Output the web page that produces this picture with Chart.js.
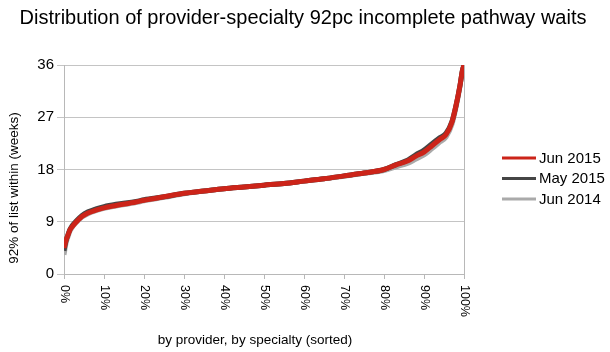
<!DOCTYPE html>
<html>
<head>
<meta charset="utf-8">
<script src="https://cdn.jsdelivr.net/npm/chart.js@4.4.0/dist/chart.umd.min.js"></script>
<style>
  html, body { margin: 0; padding: 0; background: #fff; }
  #wrap { width: 610px; height: 352px; }
</style>
</head>
<body>
<div id="wrap"><canvas id="c" width="610" height="352"></canvas></div>
<script>
const titleText = "Distribution of provider-specialty 92pc incomplete pathway waits";
const yTitle = "92% of list within (weeks)";
const xTitle = "by provider, by specialty (sorted)";
const seriesNames = ["Jun 2015", "May 2015", "Jun 2014"];
const seriesColors = ["#cc2419", "#454545", "#aaaaaa"];

// percentile position (% of provider-specialties, sorted)
const pct = [0, 0.5, 1, 1.5, 2, 3, 4.5, 6, 8, 10, 13, 18, 20, 25, 30, 35, 40, 45, 50, 55, 60, 65, 70, 75, 80, 83, 86, 88, 90, 92, 94, 95.5, 97, 98, 99, 99.6, 100];
const jun2015 = [4.5, 5.8, 6.7, 7.6, 8.1, 8.9, 9.9, 10.5, 11.0, 11.4, 11.8, 12.4, 12.7, 13.3, 13.9, 14.3, 14.7, 15.0, 15.3, 15.6, 16.0, 16.4, 16.9, 17.4, 18.0, 18.8, 19.5, 20.3, 21.0, 22.1, 23.2, 24.0, 26.2, 29.0, 32.5, 35.0, 36.0];
const may2015 = [4.0, 5.7, 6.8, 7.7, 8.3, 9.1, 10.1, 10.7, 11.2, 11.6, 12.0, 12.5, 12.8, 13.3, 13.9, 14.3, 14.7, 15.0, 15.3, 15.6, 16.0, 16.4, 16.9, 17.4, 18.0, 18.85, 19.65, 20.55, 21.35, 22.45, 23.5, 24.25, 26.3, 29.0, 32.5, 35.0, 36.0];
const jun2014 = [3.3, 5.3, 6.4, 7.4, 8.0, 8.8, 9.8, 10.4, 10.9, 11.3, 11.7, 12.3, 12.6, 13.2, 13.8, 14.3, 14.7, 15.0, 15.3, 15.6, 16.0, 16.4, 16.85, 17.35, 17.8, 18.45, 19.1, 19.8, 20.5, 21.6, 22.75, 23.6, 25.8, 28.7, 32.3, 35.0, 36.0];
const yTicks = [0, 9, 18, 27, 36];
const xTicks = [0, 10, 20, 30, 40, 50, 60, 70, 80, 90, 100];

const FONT = "'Liberation Sans', Arial, sans-serif";
const seriesValues = [jun2015, may2015, jun2014];

const datasets = seriesNames.map((name, i) => ({
  label: name,
  data: pct.map((p, j) => ({ x: p, y: seriesValues[i][j] })),
  borderColor: seriesColors[i],
  backgroundColor: seriesColors[i],
  borderWidth: 5,
  pointRadius: 0,
  cubicInterpolationMode: 'monotone',
  fill: false
}));

const decor = {
  id: 'decor',
  afterDraw(chart) {
    const ctx = chart.ctx;
    const xs = chart.scales.x;
    const area = chart.chartArea;
    ctx.save();
    ctx.fillStyle = '#000';
    // title
    ctx.font = "20px " + FONT;
    ctx.textAlign = 'center';
    ctx.textBaseline = 'alphabetic';
    ctx.fillText(titleText, 303, 24);
    // x tick labels rotated clockwise
    ctx.font = "12.5px " + FONT;
    xTicks.forEach(v => {
      const px = xs.getPixelForValue(v);
      ctx.save();
      ctx.translate(px, area.bottom + 11);
      ctx.rotate(Math.PI / 2);
      ctx.textAlign = 'left';
      ctx.textBaseline = 'middle';
      ctx.fillText(v + '%', 0, 0);
      ctx.restore();
    });
    // axis titles
    ctx.font = "13.5px " + FONT;
    ctx.textAlign = 'center';
    ctx.textBaseline = 'middle';
    ctx.fillText(xTitle, 255, 340);
    ctx.save();
    ctx.translate(14, 188);
    ctx.rotate(-Math.PI / 2);
    ctx.fillText(yTitle, 0, 0);
    ctx.restore();
    // legend
    ctx.font = "15px " + FONT;
    ctx.textAlign = 'left';
    seriesNames.forEach((name, i) => {
      const y = 158 + i * 20.5;
      ctx.strokeStyle = seriesColors[i];
      ctx.lineWidth = 3;
      ctx.beginPath();
      ctx.moveTo(502, y);
      ctx.lineTo(536, y);
      ctx.stroke();
      ctx.fillStyle = '#000';
      ctx.fillText(name, 539, y + 0.5);
    });
    ctx.restore();
  }
};

new Chart(document.getElementById('c'), {
  type: 'line',
  data: { datasets },
  options: {
    responsive: false,
    animation: false,
    layout: { padding: { top: 65, right: 146, left: 0, bottom: 0 } },
    plugins: { legend: { display: false }, title: { display: false }, tooltip: { enabled: false } },
    scales: {
      x: {
        type: 'linear', min: 0, max: 100,
        afterBuildTicks(s) { s.ticks = xTicks.map(v => ({ value: v })); },
        afterFit(s) { s.height = 78; },
        ticks: { display: false },
        grid: {
          drawOnChartArea: true, drawTicks: true, tickLength: 5,
          color: c => (c.tick && c.tick.value === 100) ? '#b8b8b8' : 'rgba(0,0,0,0)',
          tickColor: '#b8b8b8', lineWidth: 1
        },
        border: { display: true, color: '#b8b8b8' }
      },
      y: {
        min: 0, max: 36,
        afterBuildTicks(s) { s.ticks = yTicks.map(v => ({ value: v })); },
        afterFit(s) { s.width = 64; },
        ticks: { color: '#000', font: { family: FONT, size: 15 }, padding: 3 },
        grid: { color: '#c4c4c4', tickColor: '#c4c4c4', tickLength: 7, lineWidth: 1 },
        border: { display: true, color: '#b8b8b8' }
      }
    }
  },
  plugins: [decor]
});
</script>
</body>
</html>
